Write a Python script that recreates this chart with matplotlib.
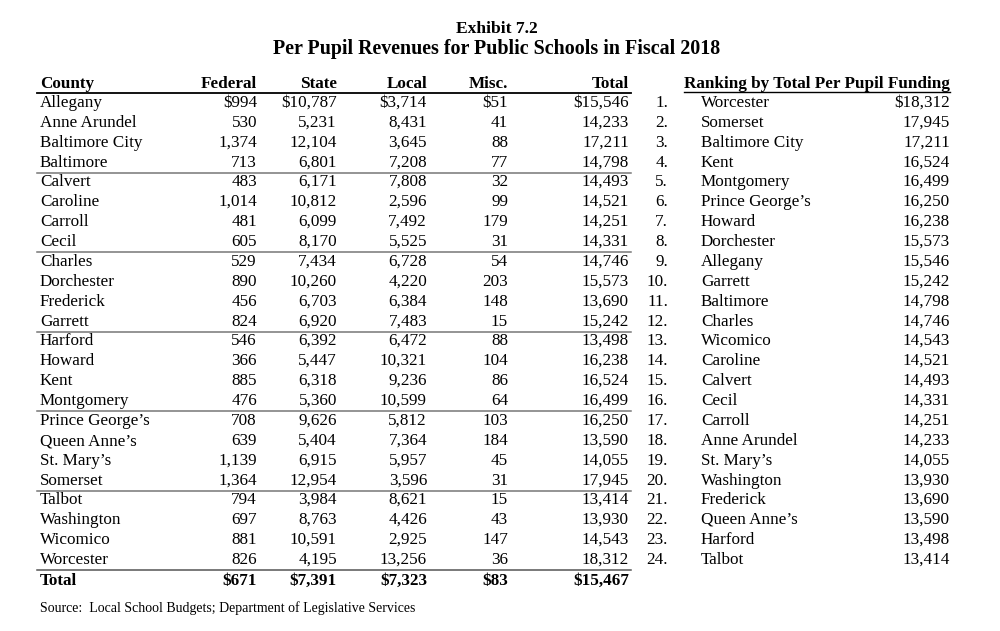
import matplotlib
matplotlib.use("Agg")
import matplotlib.pyplot as plt

counties = ["Allegany", "Anne Arundel", "Baltimore City", "Baltimore", "Calvert", "Caroline",
            "Carroll", "Cecil", "Charles", "Dorchester", "Frederick", "Garrett", "Harford",
            "Howard", "Kent", "Montgomery", "Prince George\u2019s", "Queen Anne\u2019s",
            "St. Mary\u2019s", "Somerset", "Talbot", "Washington", "Wicomico", "Worcester"]
federal = [994, 530, 1374, 713, 483, 1014, 481, 605, 529, 890, 456, 824, 546, 366, 885, 476,
           708, 639, 1139, 1364, 794, 697, 881, 826]
state = [10787, 5231, 12104, 6801, 6171, 10812, 6099, 8170, 7434, 10260, 6703, 6920, 6392,
         5447, 6318, 5360, 9626, 5404, 6915, 12954, 3984, 8763, 10591, 4195]
local = [3714, 8431, 3645, 7208, 7808, 2596, 7492, 5525, 6728, 4220, 6384, 7483, 6472, 10321,
         9236, 10599, 5812, 7364, 5957, 3596, 8621, 4426, 2925, 13256]
misc = [51, 41, 88, 77, 32, 99, 179, 31, 54, 203, 148, 15, 88, 104, 86, 64, 103, 184, 45, 31,
        15, 43, 147, 36]
total = [15546, 14233, 17211, 14798, 14493, 14521, 14251, 14331, 14746, 15573, 13690, 15242,
         13498, 16238, 16524, 16499, 16250, 13590, 14055, 17945, 13414, 13930, 14543, 18312]
state_total = {"Federal": 671, "State": 7391, "Local": 7323, "Misc.": 83, "Total": 15467}
headers = ["Federal", "State", "Local", "Misc.", "Total"]

FONT = "Liberation Serif"
fig = plt.figure(figsize=(10, 6.31), dpi=100)
ax = fig.add_axes([0, 0, 1, 1])
ax.set_xlim(0, 1000)
ax.set_ylim(631, 0)
ax.axis("off")

fs = 12.3
VA = "baseline"
ax.text(497, 33, "Exhibit 7.2", ha="center", va=VA, fontsize=12.6, fontweight="bold", family=FONT)
ax.text(497, 54, "Per Pupil Revenues for Public Schools in Fiscal 2018", ha="center", va=VA,
        fontsize=14.4, fontweight="bold", family=FONT)

x_county = 40
col_right = [257, 337, 427, 508, 629]
y_head = 88
y0 = 107
dy = 19.87


def row_y(i):
    return round(y0 + i * dy)


ax.text(x_county, y_head, "County", ha="left", va=VA, fontsize=fs, fontweight="bold", family=FONT)
for h, xr in zip(headers, col_right):
    ax.text(xr, y_head, h, ha="right", va=VA, fontsize=fs, fontweight="bold", family=FONT)
ax.plot([37, 631], [93, 93], color="black", lw=1.3)

cols = [federal, state, local, misc, total]
for i, name in enumerate(counties):
    y = row_y(i)
    ax.text(x_county, y, name, ha="left", va=VA, fontsize=fs, family=FONT)
    for vals, xr in zip(cols, col_right):
        s = f"{vals[i]:,}"
        if i == 0:
            s = "$" + s
        ax.text(xr, y, s, ha="right", va=VA, fontsize=fs, family=FONT)
    if i % 4 == 3:
        yl = y + 5.5
        ax.plot([37, 631], [yl, yl], color="#777777" if i < 23 else "#555555", lw=1.1)

y_tot = 585
ax.text(x_county, y_tot, "Total", ha="left", va=VA, fontsize=fs, fontweight="bold", family=FONT)
for h, xr in zip(headers, col_right):
    ax.text(xr, y_tot, f"${state_total[h]:,}", ha="right", va=VA, fontsize=fs,
            fontweight="bold", family=FONT)

ax.text(40, 612, "Source:  Local School Budgets; Department of Legislative Services", ha="left",
        va=VA, fontsize=10, family=FONT)

# Ranking
rank_title = ax.text(950, y_head, "Ranking by Total Per Pupil Funding", ha="right", va=VA,
                     fontsize=fs, fontweight="bold", family=FONT)
fig.canvas.draw()
bb = rank_title.get_window_extent(fig.canvas.get_renderer())
inv = ax.transData.inverted()
(x1, _), (x2, _) = inv.transform([(bb.x0, bb.y0), (bb.x1, bb.y0)])
ax.plot([x1, x2], [91.5, 91.5], color="black", lw=1.0)

order = sorted(range(len(counties)), key=lambda k: -total[k])
for r, k in enumerate(order):
    y = row_y(r)
    ax.text(668, y, f"{r + 1}.", ha="right", va=VA, fontsize=fs, family=FONT)
    ax.text(701, y, counties[k], ha="left", va=VA, fontsize=fs, family=FONT)
    s = f"{total[k]:,}"
    if r == 0:
        s = "$" + s
    ax.text(950, y, s, ha="right", va=VA, fontsize=fs, family=FONT)

fig.savefig("out.png", dpi=100, facecolor="white")
